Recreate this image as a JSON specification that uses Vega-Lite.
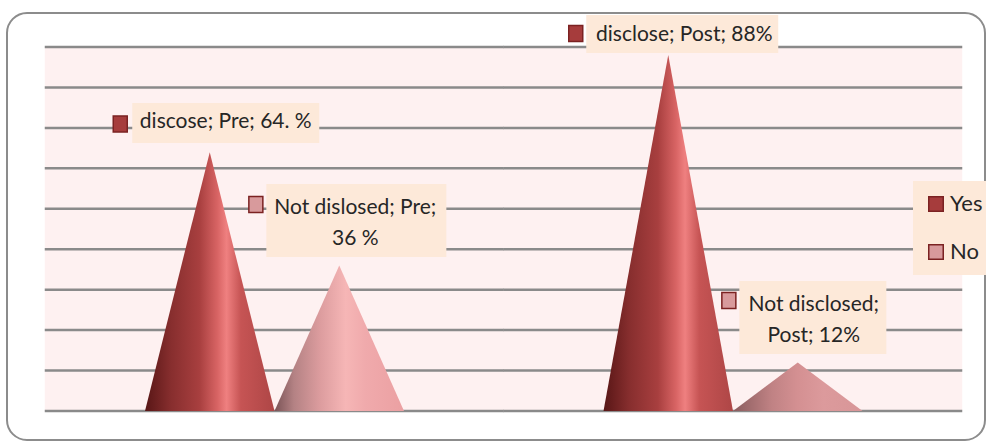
{
  "$schema": "https://vega.github.io/schema/vega-lite/v6.json",
  "width": 978,
  "height": 427,
  "autosize": {"type": "none"},
  "padding": {"left": 7, "top": 13, "right": 1, "bottom": 2},
  "background": "white",
  "config": {
    "font": "Lato",
    "view": {"fill": "white", "stroke": "#8c8c8c", "strokeWidth": 2, "cornerRadius": 20}
  },
  "data": {
    "values": [
      {"period": "Pre", "status": "Yes", "corner": "Yes left", "pct": 0},
      {"period": "Pre", "status": "Yes", "corner": "Yes tip", "pct": 64, "label": "discose; Pre; 64. %"},
      {"period": "Pre", "status": "Yes", "corner": "mid", "pct": 0},
      {"period": "Pre", "status": "No", "corner": "mid", "pct": 0},
      {"period": "Pre", "status": "No", "corner": "No tip", "pct": 36, "label": "Not dislosed; Pre;\n36 %"},
      {"period": "Pre", "status": "No", "corner": "No right", "pct": 0},
      {"period": "Post", "status": "Yes", "corner": "Yes left", "pct": 0},
      {"period": "Post", "status": "Yes", "corner": "Yes tip", "pct": 88, "label": "disclose; Post; 88%"},
      {"period": "Post", "status": "Yes", "corner": "mid", "pct": 0},
      {"period": "Post", "status": "No", "corner": "mid", "pct": 0},
      {"period": "Post", "status": "No", "corner": "No tip", "pct": 12, "label": "Not disclosed;\nPost; 12%"},
      {"period": "Post", "status": "No", "corner": "No right", "pct": 0}
    ]
  },
  "encoding": {
    "x": {
      "field": "period", "type": "nominal", "axis": null,
      "scale": {"domain": ["Pre", "Post"], "range": [38, 955], "paddingInner": 0, "paddingOuter": 0}
    },
    "y": {
      "field": "pct", "type": "quantitative", "stack": null, "axis": null,
      "scale": {"domain": [0, 90], "range": [398, 34], "nice": false}
    }
  },
  "resolve": {"scale": {"shape": "independent"}},
  "layer": [
    {
      "data": {"values": [
        {"period": "Pre", "top": 90, "bottom": 0},
        {"period": "Post", "top": 90, "bottom": 0}
      ]},
      "mark": {"type": "bar", "color": "#fef1f1", "opacity": 1, "width": 459},
      "encoding": {
        "y": {"field": "top", "type": "quantitative", "stack": null},
        "y2": {"field": "bottom"}
      }
    },
    {
      "data": {"values": [
        {"period": "Pre", "level": [0, 10, 20, 30, 40, 50, 60, 70, 80, 90]},
        {"period": "Post", "level": [0, 10, 20, 30, 40, 50, 60, 70, 80, 90]}
      ]},
      "transform": [{"flatten": ["level"]}],
      "mark": {"type": "tick", "color": "#8a8a8a", "thickness": 2.5, "size": 459, "opacity": 1},
      "encoding": {
        "y": {"field": "level", "type": "quantitative"}
      }
    },
    {
      "mark": {"type": "area", "interpolate": "linear", "strokeWidth": 0},
      "encoding": {
        "xOffset": {
          "field": "corner", "type": "nominal",
          "scale": {"type": "point", "domain": ["Yes left", "Yes tip", "mid", "No tip", "No right"], "range": [100, 359], "padding": 0}
        },
        "detail": [{"field": "period"}, {"field": "status"}],
        "order": {"value": null},
        "fill": {
          "condition": [
            {"test": "datum.status === 'Yes'", "value": {"gradient": "linear", "x1": 0, "y1": 0, "x2": 1, "y2": 0, "stops": [
              {"offset": 0, "color": "#581616"}, {"offset": 0.2, "color": "#872e2e"}, {"offset": 0.42, "color": "#a83f3f"},
              {"offset": 0.56, "color": "#d86464"}, {"offset": 0.63, "color": "#ef8080"}, {"offset": 0.74, "color": "#c65454"},
              {"offset": 1, "color": "#ae4646"}]}},
            {"test": "datum.period === 'Pre'", "value": {"gradient": "linear", "x1": 0, "y1": 0, "x2": 1, "y2": 0, "stops": [
              {"offset": 0, "color": "#7a5356"}, {"offset": 0.15, "color": "#b48284"}, {"offset": 0.35, "color": "#dc9c9e"},
              {"offset": 0.55, "color": "#f6b6b6"}, {"offset": 0.7, "color": "#f0aaac"}, {"offset": 1, "color": "#eba0a2"}]}}
          ],
          "value": {"gradient": "linear", "x1": 0, "y1": 0, "x2": 1, "y2": 0, "stops": [
            {"offset": 0, "color": "#8a5c5e"}, {"offset": 0.3, "color": "#c08284"}, {"offset": 0.5, "color": "#d49092"},
            {"offset": 0.7, "color": "#dc9a9c"}, {"offset": 1, "color": "#d89698"}]}
        }
      }
    },
    {
      "transform": [{"filter": "datum.label != null"}],
      "mark": {"type": "point", "filled": true, "opacity": 1, "fill": "#fde9d9", "strokeWidth": 0, "size": 40000},
      "encoding": {
        "xOffset": {"field": "corner", "type": "nominal"},
        "shape": {
          "field": "label", "type": "nominal", "legend": null,
          "scale": {
            "domain": ["discose; Pre; 64. %", "Not dislosed; Pre;\n36 %", "disclose; Post; 88%", "Not disclosed;\nPost; 12%"],
            "range": [
              "M-0.775,-0.492H1.095V-0.092H-0.775Z",
              "M-0.729,-0.814H1.071V-0.084H-0.729Z",
              "M-0.82,-0.401H1.1V-0.021H-0.82Z",
              "M-0.584,-0.815H0.886V-0.085H-0.584Z"
            ]
          }
        }
      }
    },
    {
      "transform": [{"filter": "datum.label != null"}],
      "mark": {"type": "point", "filled": true, "opacity": 1, "stroke": "#7b2222", "strokeWidth": 1.5, "size": 40000},
      "encoding": {
        "xOffset": {"field": "corner", "type": "nominal"},
        "color": {
          "field": "status", "type": "nominal",
          "scale": {"domain": ["Yes", "No"], "range": ["#a63c3c", "#d89a9c"]},
          "legend": {
            "title": null, "orient": "none", "legendX": 906, "legendY": 168,
            "fillColor": "#fde9d9", "padding": 12, "rowPadding": 26,
            "symbolType": "square", "symbolSize": 210, "symbolStrokeColor": "#7b2222", "symbolStrokeWidth": 1.5,
            "labelFont": "Lato", "labelFontSize": 22, "labelColor": "#262626", "labelOffset": 3
          }
        },
        "shape": {
          "field": "label", "type": "nominal", "legend": null,
          "scale": {
            "domain": ["discose; Pre; 64. %", "Not dislosed; Pre;\n36 %", "disclose; Post; 88%", "Not disclosed;\nPost; 12%"],
            "range": [
              "M-0.965,-0.362H-0.825V-0.202H-0.965Z",
              "M-0.904,-0.689H-0.764V-0.529H-0.904Z",
              "M-0.995,-0.296H-0.855V-0.136H-0.995Z",
              "M-0.759,-0.70H-0.619V-0.54H-0.759Z"
            ]
          }
        }
      }
    },
    {
      "transform": [{"filter": "datum.label != null"}],
      "mark": {
        "type": "text", "lineBreak": "\n", "lineHeight": 31, "fontSize": 21, "font": "Lato",
        "color": "#262626", "align": "center", "baseline": "bottom", "dx": 16,
        "dy": {"expr": "datum.pct > 80 ? -10 : (indexof(datum.label, '\\n') >= 0 ? -47 : -20)"}
      },
      "encoding": {
        "xOffset": {"field": "corner", "type": "nominal"},
        "text": {"field": "label"}
      }
    }
  ]
}
